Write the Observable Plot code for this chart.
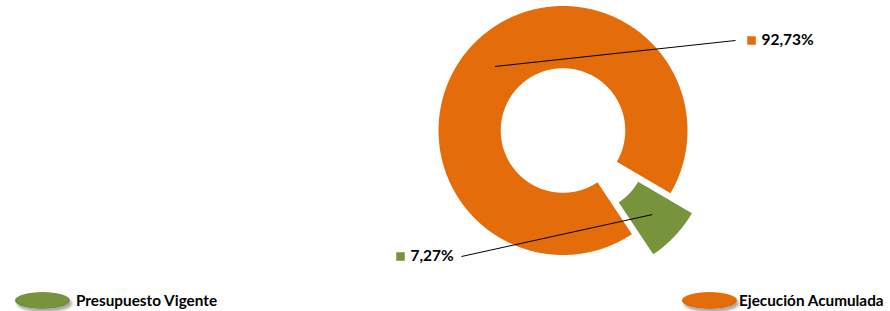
<!DOCTYPE html>
<html><head><meta charset="utf-8">
<script src="https://cdn.jsdelivr.net/npm/d3@7"></script>
<script src="https://cdn.jsdelivr.net/npm/@observablehq/plot@0.6"></script>
<style>
body{margin:0;background:#fff;font-family:Lato,"Open Sans",sans-serif;}
#wrap{position:relative;width:890px;height:311px;}
.leg{position:absolute;top:289px;height:22px;display:flex;align-items:center;font-weight:bold;font-size:15.3px;color:#000;}
.ell{width:55px;height:17px;border-radius:50%;margin-right:6px;box-shadow:2px 3px 3px rgba(0,0,0,0.35);}
</style></head>
<body><div id="wrap"><div id="chart"></div>
<div class="leg" style="left:15px"><div class="ell" id="e0"></div><span id="t0"></span></div>
<div class="leg" style="left:682px"><div class="ell" id="e1" style="margin-right:2px"></div><span id="t1"></span></div>
</div>
<script>
const categories = ["Presupuesto Vigente", "Ejecución Acumulada"];
const values = [7.27, 92.73];
const colors = ["#77933C", "#E46C0A"];
const exploded = [true, false];

const W = 890, H = 289;
const cx = 562.5, cy = 130, R = 124.5; // layout (pixels)
const innerR = 0.5, explode = 0.235;
const startDeg = 120.2;

const pie = d3.pie().sort(null)
  .startAngle(startDeg * Math.PI / 180)
  .endAngle(startDeg * Math.PI / 180 + 2 * Math.PI);
const arcs = pie(values);

function slicePoints(a, i) {
  const pts = [];
  const mid = (a.startAngle + a.endAngle) / 2;
  const ox = exploded[i] ? explode * Math.sin(mid) : 0;
  const oy = exploded[i] ? explode * Math.cos(mid) : 0;
  const n = Math.max(8, Math.ceil((a.endAngle - a.startAngle) / 0.01));
  for (let k = 0; k <= n; k++) {
    const t = a.startAngle + (a.endAngle - a.startAngle) * k / n;
    pts.push({x: ox + Math.sin(t), y: oy + Math.cos(t)});
  }
  for (let k = n; k >= 0; k--) {
    const t = a.startAngle + (a.endAngle - a.startAngle) * k / n;
    pts.push({x: ox + innerR * Math.sin(t), y: oy + innerR * Math.cos(t)});
  }
  return {pts, ox, oy, mid};
}
const slices = arcs.map((a, i) => slicePoints(a, i));

// label layout (data units relative to pie centre)
const labelEnds = [
  {x: (461 - cx) / R, y: (cy - 256) / R, side: "left"},
  {x: (735 - cx) / R, y: (cy - 40) / R, side: "right"}
];
const rm = (1 + innerR) / 2;
const leaders = slices.map((s, i) => ({
  x1: s.ox + rm * Math.sin(s.mid), y1: s.oy + rm * Math.cos(s.mid),
  x2: labelEnds[i].x, y2: labelEnds[i].y
}));
const fmt = v => v.toFixed(2).replace(".", ",") + "%";
const labels = values.map((v, i) => {
  const e = labelEnds[i];
  const sq = e.side === "right" ? e.x + 16 / R : e.x - 61 / R;
  return {sx: sq, y: e.y, tx: sq + 10 / R, text: fmt(v), color: colors[i]};
});

const marks = [];
slices.forEach((s, i) => {
  marks.push(Plot.line(s.pts, {x: "x", y: "y", fill: colors[i], stroke: "none", curve: "linear-closed"}));
});
marks.push(Plot.link(leaders, {x1: "x1", y1: "y1", x2: "x2", y2: "y2", stroke: "#000", strokeWidth: 1}));
marks.push(Plot.dot(labels, {x: "sx", y: "y", symbol: "square", r: 4.8, fill: "color", stroke: "none"}));
marks.push(Plot.text(labels, {x: "tx", y: "y", text: "text", textAnchor: "start", fontSize: 15.5, fontWeight: "bold", fill: "#000", fontFamily: "Lato, 'Open Sans', sans-serif"}));

const chart = Plot.plot({
  width: W, height: H,
  margin: 0,
  x: {domain: [-cx / R, (W - cx) / R], range: [0, W], axis: null},
  y: {domain: [(cy - H) / R, cy / R], range: [H, 0], axis: null},
  color: {type: "identity"},
  style: {background: "white"},
  marks
});
document.getElementById("chart").appendChild(chart);

document.getElementById("t0").textContent = categories[0];
document.getElementById("t1").textContent = categories[1];
document.getElementById("e0").style.background = `radial-gradient(ellipse at 50% 40%, ${colors[0]} 60%, ${d3.color(colors[0]).darker(0.4)} 100%)`;
document.getElementById("e1").style.background = `radial-gradient(ellipse at 50% 40%, ${colors[1]} 60%, ${d3.color(colors[1]).darker(0.4)} 100%)`;
</script></body></html>
